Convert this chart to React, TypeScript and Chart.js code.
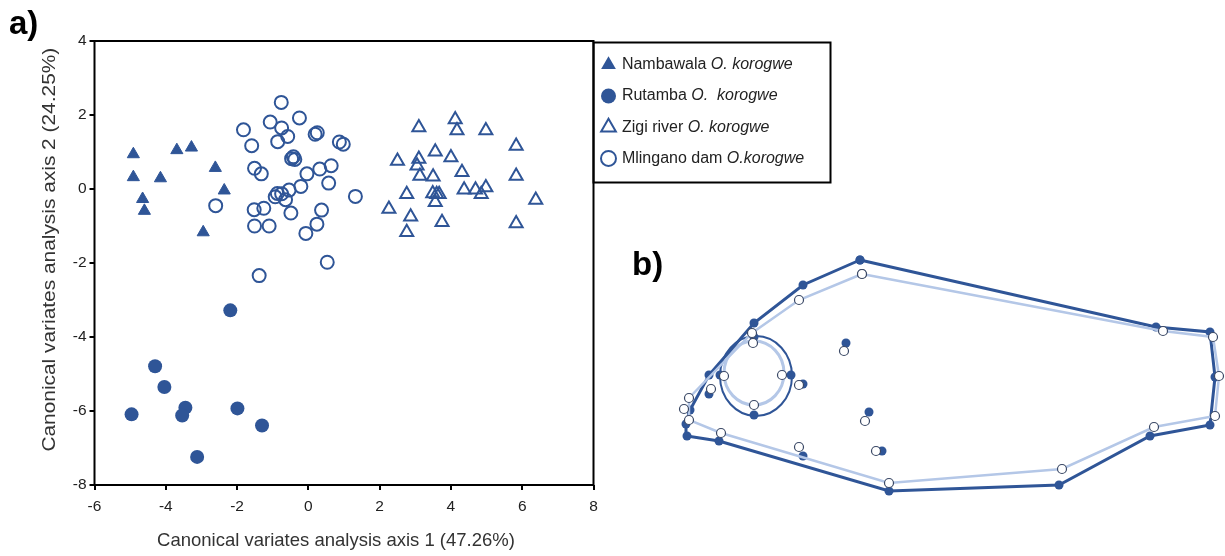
import React, { useEffect, useRef } from 'react';
import { Chart, registerables } from 'chart.js';

Chart.register(...registerables);

// ---------------- Panel a data (CVA scores) ----------------
const NAMBAWALA_X = [-4.91, -4.91, -4.15, -4.65, -4.6, -3.69, -3.28, -2.61, -2.36, -2.95];
const NAMBAWALA_Y = [0.94, 0.32, 0.29, -0.27, -0.59, 1.05, 1.12, 0.57, -0.04, -1.17];

const RUTAMBA_X = [-2.19, -4.3, -4.04, -4.96, -3.45, -3.54, -1.99, -1.3, -3.12];
const RUTAMBA_Y = [-3.28, -4.79, -5.35, -6.09, -5.91, -6.12, -5.93, -6.39, -7.24];

const ZIGI_X = [3.1, 4.12, 4.17, 4.98, 5.83, 2.5, 3.1, 3.05, 3.56, 4.0, 3.13, 3.5, 4.31, 5.83, 2.76, 3.49, 3.6, 3.67, 3.56, 4.37, 4.69, 4.98, 4.85, 6.38, 2.26, 2.87, 3.75, 2.76, 5.83];
const ZIGI_Y = [1.66, 1.88, 1.58, 1.58, 1.16, 0.76, 0.81, 0.63, 1.01, 0.85, 0.35, 0.33, 0.45, 0.35, -0.14, -0.12, -0.14, -0.14, -0.36, -0.02, -0.02, 0.04, -0.14, -0.3, -0.54, -0.75, -0.9, -1.17, -0.93];

const MLINGANO_X = [-0.76, -1.82, -1.07, -0.75, -0.25, -0.58, -1.59, -0.86, 0.19, 0.25, 0.87, 0.98, -0.47, -0.42, -0.38, -1.51, -1.32, -0.04, 0.32, 0.64, 0.57, -0.21, -0.54, -0.75, -0.93, -0.64, -0.87, -2.6, -1.52, -1.25, -0.49, 0.37, -1.51, -1.1, 0.24, -0.07, 0.53, -1.38, 1.32];
const MLINGANO_Y = [2.34, 1.6, 1.81, 1.65, 1.92, 1.42, 1.17, 1.28, 1.48, 1.52, 1.27, 1.21, 0.82, 0.87, 0.8, 0.56, 0.41, 0.41, 0.54, 0.63, 0.16, 0.07, -0.03, -0.13, -0.21, -0.29, -0.12, -0.45, -0.56, -0.52, -0.65, -0.57, -1.0, -1.0, -0.95, -1.2, -1.98, -2.34, -0.2];

const X_TICKS = [-6, -4, -2, 0, 2, 4, 6, 8];
const Y_TICKS = [-8, -6, -4, -2, 0, 2, 4];
const X_TITLE = 'Canonical variates analysis axis 1 (47.26%)';
const Y_TITLE = 'Canonical variates analysis axis 2 (24.25%)';

const LEGEND_SITES = ['Nambawala', 'Rutamba', 'Zigi river', 'Mlingano dam'];
const LEGEND_SPECIES = ['O. korogwe', 'O.  korogwe', 'O. korogwe', 'O.korogwe'];

// ---------------- Panel b data (landmark configurations) ----------------
const DARK_OUTLINE_X = [1.76, 4.72, 5.26, 5.31, 5.26, 4.66, 3.75, 2.05, 0.35, 0.03, 0.02, 0.06, 0.25, 0.7, 1.19, 1.76];
const DARK_OUTLINE_Y = [1.16, 0.49, 0.44, -0.01, -0.49, -0.6, -1.09, -1.15, -0.65, -0.6, -0.48, -0.34, 0.01, 0.53, 0.91, 1.16];
const LIGHT_OUTLINE_X = [1.78, 4.79, 5.29, 5.35, 5.31, 4.7, 3.78, 2.05, 0.37, 0.05, 0.05, 0.68, 1.15, 1.78];
const LIGHT_OUTLINE_Y = [1.02, 0.45, 0.39, 0.0, -0.4, -0.51, -0.93, -1.07, -0.57, -0.44, -0.22, 0.43, 0.76, 1.02];

const DARK_LANDMARK_X = [0.7, 0.36, 1.07, 0.7, 1.19, 1.62, 0.25, 1.85, 1.98, 1.19];
const DARK_LANDMARK_Y = [0.39, 0.01, 0.01, -0.39, -0.08, 0.33, -0.18, -0.36, -0.75, -0.8];
const LIGHT_LANDMARK_X = [0.69, 0.4, 0.98, 0.7, 1.15, 1.6, 0.27, 1.81, 1.92, 1.15, 0.0];
const LIGHT_LANDMARK_Y = [0.33, 0.0, 0.01, -0.29, -0.09, 0.25, -0.13, -0.45, -0.75, -0.71, -0.33];

// eye outlines: [dark, light]
const EYE_CX = [0.72, 0.7];
const EYE_CY = [0.0, 0.03];
const EYE_RX = [0.36, 0.3];
const EYE_RY = [0.4, 0.32];

const BLUE = '#2F5597';
const LIGHT_BLUE = '#B4C7E7';
const OPEN_EDGE = '#3A4865';
const FONT = '"Liberation Sans", Arial, sans-serif';

const pts = (xs: number[], ys: number[]) => xs.map((x, i) => ({ x, y: ys[i] }));

function drawMarker(ctx: CanvasRenderingContext2D, kind: string, x: number, y: number, r: number, filled: boolean) {
  ctx.beginPath();
  if (kind === 'triangle') {
    ctx.moveTo(x, y - r);
    ctx.lineTo(x + r * 0.866, y + r * 0.5);
    ctx.lineTo(x - r * 0.866, y + r * 0.5);
    ctx.closePath();
  } else {
    ctx.arc(x, y, r, 0, Math.PI * 2);
  }
  if (filled) {
    ctx.fillStyle = BLUE;
    ctx.fill();
  } else {
    ctx.lineWidth = 2;
    ctx.strokeStyle = BLUE;
    ctx.stroke();
  }
}

const frameAndTextPlugin = {
  id: 'frameAndText',
  afterDraw(chart: any) {
    const { ctx, chartArea } = chart;
    const { left, right, top, bottom } = chartArea;
    ctx.save();
    ctx.lineWidth = 2;
    ctx.strokeStyle = '#000';
    ctx.strokeRect(left, top, right - left, bottom - top);

    // axis titles
    ctx.fillStyle = '#333';
    ctx.textAlign = 'center';
    ctx.textBaseline = 'middle';
    ctx.font = `18.5px ${FONT}`;
    ctx.fillText(X_TITLE, left + 0.484 * (right - left), bottom + 56);
    ctx.font = `18px ${FONT}`;
    ctx.save();
    ctx.translate(left - 44, top + 0.47 * (bottom - top));
    ctx.rotate(-Math.PI / 2);
    ctx.scale(1.16, 1);
    ctx.fillText(Y_TITLE, 0, 0);
    ctx.restore();

    // legend
    const lx = right;
    const ly = top + 1.5;
    ctx.lineWidth = 2;
    ctx.strokeStyle = '#000';
    ctx.strokeRect(lx, ly, 237, 140);
    const kinds = ['triangle', 'circle', 'triangle', 'circle'];
    const fills = [true, true, false, false];
    const radii = [8.5, 7.5, 8.5, 7.5];
    ctx.textAlign = 'left';
    ctx.textBaseline = 'middle';
    LEGEND_SITES.forEach((site, i) => {
      const yy = ly + 22.3 + i * 31.2;
      drawMarker(ctx, kinds[i], lx + 15, yy, radii[i], fills[i]);
      ctx.fillStyle = '#222';
      ctx.font = `16px ${FONT}`;
      const t = site + ' ';
      ctx.fillText(t, lx + 28.4, yy);
      const w = ctx.measureText(t).width;
      ctx.font = `italic 16px ${FONT}`;
      ctx.fillText(LEGEND_SPECIES[i], lx + 28.4 + w, yy);
    });
    ctx.restore();
  },
};

function PanelA() {
  const ref = useRef<HTMLCanvasElement>(null);
  useEffect(() => {
    const chart = new Chart(ref.current!, {
      type: 'scatter',
      data: {
        datasets: [
          {
            label: 'Nambawala O. korogwe',
            data: pts(NAMBAWALA_X, NAMBAWALA_Y),
            pointStyle: 'triangle',
            pointRadius: 7,
            backgroundColor: BLUE,
            borderColor: BLUE,
            borderWidth: 1,
          },
          {
            label: 'Rutamba O. korogwe',
            data: pts(RUTAMBA_X, RUTAMBA_Y),
            pointStyle: 'circle',
            pointRadius: 7,
            backgroundColor: BLUE,
            borderColor: BLUE,
            borderWidth: 0,
          },
          {
            label: 'Zigi river O. korogwe',
            data: pts(ZIGI_X, ZIGI_Y),
            pointStyle: 'triangle',
            pointRadius: 7.5,
            backgroundColor: 'rgba(0,0,0,0)',
            borderColor: BLUE,
            borderWidth: 2,
          },
          {
            label: 'Mlingano dam O.korogwe',
            data: pts(MLINGANO_X, MLINGANO_Y),
            pointStyle: 'circle',
            pointRadius: 6.5,
            backgroundColor: 'rgba(0,0,0,0)',
            borderColor: BLUE,
            borderWidth: 2,
          },
        ] as any,
      },
      options: {
        responsive: false,
        animation: false,
        layout: { autoPadding: false, padding: { left: 0, top: 41, right: 840 - 593.5, bottom: 0 } },
        plugins: { legend: { display: false }, tooltip: { enabled: false } },
        scales: {
          x: {
            type: 'linear',
            min: -6,
            max: 8,
            afterBuildTicks: (s: any) => { s.ticks = X_TICKS.map((v) => ({ value: v })); },
            afterFit: (s: any) => { s.height = 556 - 485; },
            grid: { display: true, drawOnChartArea: false, drawTicks: true, tickLength: 5, color: '#000', lineWidth: 2 },
            border: { display: false },
            ticks: { color: '#222', font: { family: FONT, size: 15.5 }, padding: 7, maxRotation: 0 },
          },
          y: {
            type: 'linear',
            min: -8,
            max: 4,
            afterBuildTicks: (s: any) => { s.ticks = Y_TICKS.map((v) => ({ value: v })); },
            afterFit: (s: any) => { s.width = 94.5; },
            grid: { display: true, drawOnChartArea: false, drawTicks: true, tickLength: 5, color: '#000', lineWidth: 2 },
            border: { display: false },
            ticks: { color: '#222', font: { family: FONT, size: 15.5 }, padding: 3 },
          },
        },
      } as any,
      plugins: [frameAndTextPlugin],
    });
    return () => chart.destroy();
  }, []);
  return <canvas ref={ref} width={840} height={556} style={{ position: 'absolute', left: 0, top: 0, width: 840, height: 556 }} />;
}

const eyePlugin = {
  id: 'eyes',
  beforeDatasetsDraw(chart: any) {
    const { ctx, scales } = chart;
    const xs = scales.x;
    const ys = scales.y;
    const colors = [BLUE, LIGHT_BLUE];
    const widths = [2, 3];
    ctx.save();
    EYE_CX.forEach((cxv, i) => {
      const cx = xs.getPixelForValue(cxv);
      const cy = ys.getPixelForValue(EYE_CY[i]);
      const rx = Math.abs(xs.getPixelForValue(cxv + EYE_RX[i]) - cx);
      const ry = Math.abs(ys.getPixelForValue(EYE_CY[i] + EYE_RY[i]) - cy);
      ctx.beginPath();
      ctx.ellipse(cx, cy, rx, ry, 0, 0, Math.PI * 2);
      ctx.strokeStyle = colors[i];
      ctx.lineWidth = widths[i];
      ctx.stroke();
    });
    ctx.restore();
  },
};

function PanelB() {
  const ref = useRef<HTMLCanvasElement>(null);
  useEffect(() => {
    const openPoint = {
      pointStyle: 'circle',
      pointRadius: 4.5,
      pointBackgroundColor: '#fff',
      pointBorderColor: OPEN_EDGE,
      pointBorderWidth: 1.2,
    };
    const filledPoint = {
      pointStyle: 'circle',
      pointRadius: 4.5,
      pointBackgroundColor: BLUE,
      pointBorderColor: BLUE,
      pointBorderWidth: 0,
    };
    const chart = new Chart(ref.current!, {
      type: 'scatter',
      data: {
        datasets: [
          { label: 'light landmarks', data: pts(LIGHT_LANDMARK_X, LIGHT_LANDMARK_Y), showLine: false, ...openPoint, clip: false },
          { label: 'light outline', data: pts(LIGHT_OUTLINE_X, LIGHT_OUTLINE_Y), showLine: true, borderColor: LIGHT_BLUE, borderWidth: 2.5, tension: 0, ...openPoint, clip: false },
          { label: 'dark landmarks', data: pts(DARK_LANDMARK_X, DARK_LANDMARK_Y), showLine: false, ...filledPoint, clip: false },
          { label: 'dark outline', data: pts(DARK_OUTLINE_X, DARK_OUTLINE_Y), showLine: true, borderColor: BLUE, borderWidth: 3, tension: 0, ...filledPoint, clip: false },
        ] as any,
      },
      options: {
        responsive: false,
        animation: false,
        layout: { autoPadding: false, padding: 0 },
        plugins: { legend: { display: false }, tooltip: { enabled: false } },
        scales: {
          x: { type: 'linear', min: -0.44, max: 5.41, display: false },
          y: { type: 'linear', min: -1.34, max: 1.36, display: false },
        },
      } as any,
      plugins: [eyePlugin],
    });
    return () => chart.destroy();
  }, []);
  return <canvas ref={ref} width={585} height={270} style={{ position: 'absolute', left: 640, top: 240, width: 585, height: 270 }} />;
}

export default function App() {
  return (
    <div style={{ position: 'fixed', left: 0, top: 0, width: 1225, height: 556, background: '#fff', overflow: 'hidden' }}>
      <PanelA />
      <PanelB />
      <div style={{ position: 'absolute', left: 9, top: 4, font: `bold 33px ${FONT}`, color: '#000' }}>a)</div>
      <div style={{ position: 'absolute', left: 632, top: 245, font: `bold 33px ${FONT}`, color: '#000' }}>b)</div>
    </div>
  );
}
